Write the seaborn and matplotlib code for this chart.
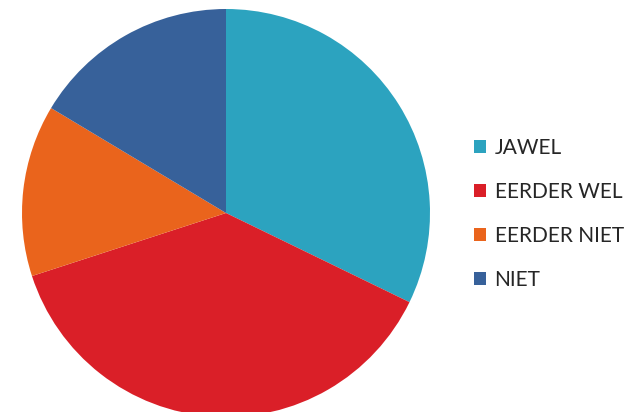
import matplotlib.pyplot as plt
import seaborn as sns
from matplotlib.patches import Patch

# data
labels = ['JAWEL', 'EERDER WEL', 'EERDER NIET', 'NIET']
values = [32.2, 37.8, 13.6, 16.4]
colors = ['#2CA3BF', '#DA1F28', '#EA641C', '#37619A']

sns.set_style('white')
plt.rcParams['font.family'] = ['Lato', 'DejaVu Sans']
palette = sns.color_palette(colors)

fig = plt.figure(figsize=(6.34, 4.12), dpi=100)
ax = fig.add_axes([22 / 634, (412 - 213 - 204) / 412, 408 / 634, 408 / 412])

ax.pie(values, colors=palette, startangle=90, counterclock=False,
       wedgeprops=dict(linewidth=0))
ax.set_xlim(-1, 1)
ax.set_ylim(-1, 1)
ax.set_aspect('equal')
ax.axis('off')

# legend
handles = [Patch(facecolor=c, edgecolor='none') for c in palette]
fig.legend(handles, labels, loc='center left', bbox_to_anchor=(455 / 634, 1 - 214 / 412),
           frameon=False, fontsize=15, handlelength=0.6, handleheight=0.6,
           handletextpad=0.4, labelspacing=1.15)

plt.savefig('out.png', dpi=100)
